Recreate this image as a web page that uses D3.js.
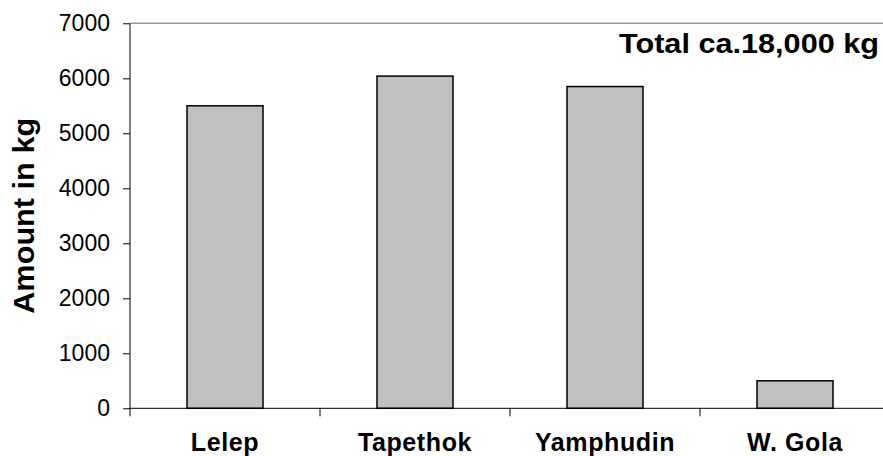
<!DOCTYPE html>
<html>
<head>
<meta charset="utf-8">
<script src="https://cdn.jsdelivr.net/npm/d3@7"></script>
<style>
	html, body { margin: 0; padding: 0; background: #fff; }
	svg { display: block; font-family: "Liberation Sans", Arial, sans-serif; }
</style>
</head>
<body>
<div id="chart"></div>
<script>
// values
const places = ['Lelep', 'Tapethok', 'Yamphudin', 'W. Gola'];
const amounts = [5500, 6040, 5850, 500];
const yTicks = [0, 1000, 2000, 3000, 4000, 5000, 6000, 7000];
const yTitle = 'Amount in kg';
const note = 'Total ca.18,000 kg';

const width = 883;
const height = 456;
const plotLeft = 130;
const plotRight = 890;
const plotTop = 23.3;
const plotBottom = 408.3;

const $svg = d3.select('#chart').append('svg')
	.attr('width', width)
	.attr('height', height);

const x = d3.scaleBand()
	.domain(places)
	.range([plotLeft, plotRight])
	.paddingInner(0.6)
	.paddingOuter(0.3);

const y = d3.scaleLinear()
	.domain([0, 7000])
	.range([plotBottom, plotTop]);

// top frame line
$svg.append('line')
	.attr('x1', plotLeft).attr('x2', plotRight)
	.attr('y1', y(7000)).attr('y2', y(7000))
	.attr('stroke', '#999')
	.attr('stroke-width', 1.5);

// bars
$svg.append('g')
	.selectAll('rect')
	.data(amounts)
	.join('rect')
	.attr('x', (d, i) => x(places[i]))
	.attr('y', d => y(d))
	.attr('width', x.bandwidth())
	.attr('height', d => y(0) - y(d))
	.attr('fill', '#c0c0c0')
	.attr('stroke', '#000')
	.attr('stroke-width', 1.5);

// y axis
const yAxis = $svg.append('g')
	.attr('transform', `translate(${plotLeft},0)`)
	.call(d3.axisLeft(y).tickValues(yTicks).tickSize(7).tickPadding(13).tickFormat(d3.format('d')));
yAxis.select('.domain').remove();
yAxis.selectAll('text')
	.attr('font-size', 23)
	.attr('font-family', '"Liberation Sans", Arial, sans-serif')
	.attr('fill', '#000');
yAxis.selectAll('line').attr('stroke', '#000');
yAxis.append('line')
	.attr('y1', y(7000)).attr('y2', plotBottom + 8)
	.attr('stroke', '#000');

// x axis
const xAxis = $svg.append('g')
	.attr('transform', `translate(0,${plotBottom})`)
	.call(d3.axisBottom(x).tickSize(0).tickPadding(0));
xAxis.select('.domain')
	.attr('d', `M${plotLeft},0H${plotRight}`)
	.attr('stroke', '#000');
xAxis.selectAll('text')
	.attr('y', 42.5)
	.attr('dy', 0)
	.attr('font-size', 25)
	.attr('font-weight', 'bold')
	.attr('letter-spacing', 0.6)
	.attr('font-family', '"Liberation Sans", Arial, sans-serif')
	.attr('fill', '#000');

// category boundary ticks
xAxis.append('g')
	.selectAll('line')
	.data(places.slice(1).concat(['end']))
	.join('line')
	.attr('x1', (d, i) => plotLeft + x.step() * (i + 1))
	.attr('x2', (d, i) => plotLeft + x.step() * (i + 1))
	.attr('y1', 0).attr('y2', 8)
	.attr('stroke', '#000');

// y title
$svg.append('text')
	.attr('transform', `translate(34,${(plotTop + plotBottom) / 2}) rotate(-90)`)
	.attr('text-anchor', 'middle')
	.attr('font-size', 29)
	.attr('font-weight', 'bold')
	.attr('textLength', 196)
	.attr('lengthAdjust', 'spacingAndGlyphs')
	.text(yTitle);

// total note
$svg.append('text')
	.attr('x', 619)
	.attr('y', 53)
	.attr('font-size', 28)
	.attr('font-weight', 'bold')
	.attr('textLength', 260)
	.attr('lengthAdjust', 'spacingAndGlyphs')
	.text(note);
</script>
</body>
</html>
